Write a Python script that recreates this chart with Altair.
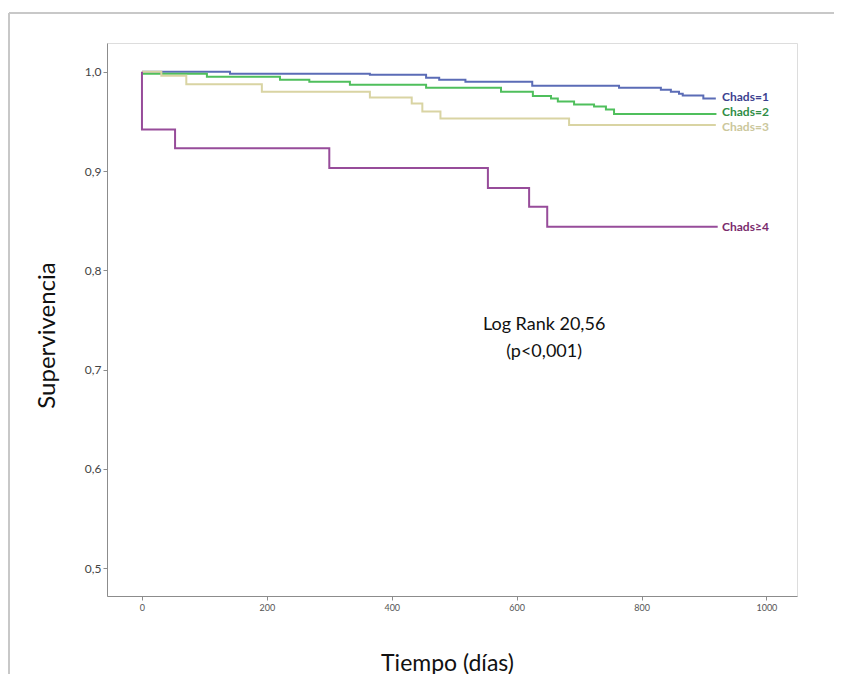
import altair as alt
import pandas as pd

# ---- data ----
series_names = ["Chads=1", "Chads=2", "Chads=3", "Chads≥4"]

t1 = [0, 141, 365, 455, 476, 518, 625, 764, 831, 847, 860, 866, 899, 919]
s1 = [1.000, 0.998, 0.997, 0.994, 0.992, 0.990, 0.986, 0.984, 0.982, 0.980, 0.978, 0.976, 0.973, 0.973]

t2 = [0, 104, 221, 268, 333, 455, 575, 626, 655, 666, 692, 724, 743, 756, 920]
s2 = [0.998, 0.995, 0.992, 0.990, 0.987, 0.984, 0.980, 0.9755, 0.973, 0.970, 0.967, 0.965, 0.962, 0.9575, 0.9575]

t3 = [0, 31, 71, 192, 365, 432, 449, 478, 684, 919]
s3 = [1.000, 0.996, 0.9875, 0.980, 0.974, 0.968, 0.960, 0.953, 0.9465, 0.9465]

t4 = [0, 0, 53, 300, 554, 620, 649, 922]
s4 = [1.000, 0.942, 0.923, 0.903, 0.883, 0.864, 0.844, 0.844]

line_colors = ["#5b6cb6", "#4fbf5c", "#d9d4a3", "#974c9a"]
label_colors = ["#3c418f", "#2f8d46", "#cbc79c", "#7a2b6d"]

label_x = [929, 929, 929, 929]
label_y = [0.9745, 0.959, 0.944, 0.844]

x_ticks = [0, 200, 400, 600, 800, 1000]
y_ticks = [0.5, 0.6, 0.7, 0.8, 0.9, 1.0]

note_lines = ["Log Rank 20,56", "(p<0,001)"]
note_x = [644, 644]
note_y = [0.745, 0.718]

# ---- tables ----
rows = []
for name, ts, ss in zip(series_names, [t1, t2, t3, t4], [s1, s2, s3, s4]):
    for i, (t, s) in enumerate(zip(ts, ss)):
        rows.append({"grupo": name, "t": t, "s": s, "i": i})
curves = pd.DataFrame(rows)
labels = pd.DataFrame({"grupo": series_names, "t": label_x, "s": label_y})
notes = pd.DataFrame({"txt": note_lines, "t": note_x, "s": note_y})

W, H = 690, 553
FONT = "Lato"

xscale = alt.Scale(domain=[-56, 1049], nice=False, zero=False)
yscale = alt.Scale(domain=[0.472, 1.029], nice=False, zero=False)
cscale = alt.Scale(domain=series_names, range=line_colors)
lscale = alt.Scale(domain=series_names, range=label_colors)

lines = alt.Chart(curves).mark_line(interpolate="step-after", strokeWidth=2).encode(
    x=alt.X("t:Q", scale=xscale,
            axis=alt.Axis(values=x_ticks, format="d", title="Tiempo (días)", grid=False,
                          labelFontSize=9, labelColor="#555555", labelFont=FONT,
                          tickSize=4, tickColor="#8c8c8c", domainColor="#8c8c8c",
                          labelPadding=3,
                          titleFont=FONT, titleFontSize=23, titleFontWeight="normal",
                          titleColor="#111111", titleX=340, titleY=67,
                          titleBaseline="middle", titleAlign="center")),
    y=alt.Y("s:Q", scale=yscale,
            axis=alt.Axis(values=y_ticks, title="Supervivencia", grid=False,
                          labelExpr="replace(format(datum.value, '.1f'), '.', ',')",
                          labelFontSize=12, labelColor="#444444", labelFont=FONT,
                          tickSize=4, tickColor="#8c8c8c", domainColor="#8c8c8c",
                          labelPadding=2,
                          titleFont=FONT, titleFontSize=24, titleFontWeight="normal",
                          titleColor="#111111", titleX=-60, titleY=292,
                          titleAngle=270, titleBaseline="middle", titleAlign="center")),
    color=alt.Color("grupo:N", scale=cscale, legend=None),
    order="i:Q",
    detail="grupo:N",
)

lab = alt.Chart(labels).mark_text(align="left", baseline="middle", fontSize=12,
                                  fontWeight="bold", font=FONT).encode(
    x=alt.X("t:Q", scale=xscale),
    y=alt.Y("s:Q", scale=yscale),
    text="grupo:N",
    color=alt.Color("grupo:N", scale=lscale, legend=None),
)

note = alt.Chart(notes).mark_text(align="center", baseline="middle", fontSize=18,
                                  font=FONT, color="#111111").encode(
    x=alt.X("t:Q", scale=xscale),
    y=alt.Y("s:Q", scale=yscale),
    text="txt:N",
)

one = pd.DataFrame({"a": [0]})
frame_left = alt.Chart(one).mark_rule(color="#c8c8c8", strokeWidth=2).encode(
    x=alt.value(-98), y=alt.value(-30), y2=alt.value(H + 78))
frame_top = alt.Chart(one).mark_rule(color="#c8c8c8", strokeWidth=2).encode(
    x=alt.value(-98), x2=alt.value(W + 37), y=alt.value(-30))

chart = alt.layer(frame_left, frame_top, lines, lab, note).resolve_scale(
    color="independent"
).properties(
    width=W, height=H,
    autosize=alt.AutoSizeParams(type="none"),
    padding={"left": 99, "top": 35, "right": 37, "bottom": 78},
).configure_view(
    stroke="#8c8c8c", strokeWidth=1.5
).configure(background="white")

chart.save("out.html", embed_options={"renderer": "svg", "actions": False})
